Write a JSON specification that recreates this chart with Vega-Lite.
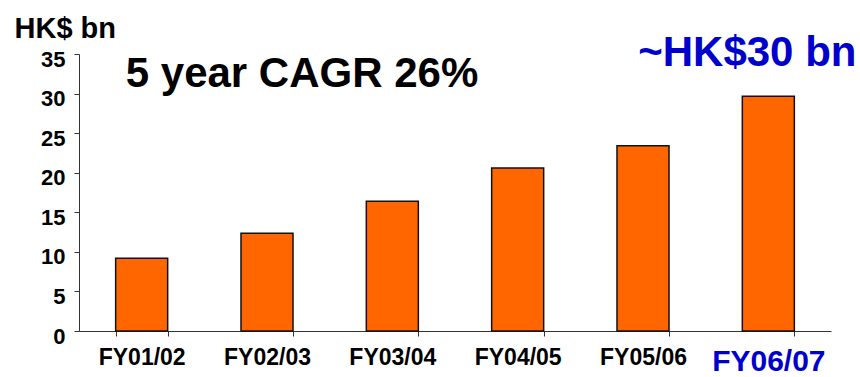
{
  "$schema": "https://vega.github.io/schema/vega-lite/v6.json",
  "width": 752,
  "height": 277,
  "autosize": {"type": "none"},
  "padding": {"left": 79, "top": 54, "right": 29, "bottom": 46},
  "background": "white",
  "config": {
    "view": {"stroke": null},
    "font": "Liberation Sans",
    "axis": {"grid": false, "domainColor": "#333333", "tickColor": "#333333", "labelFont": "Liberation Sans", "labelFontWeight": "bold", "labelColor": "black", "titleFont": "Liberation Sans", "labelOverlap": false}
  },
  "encoding": {
    "x": {
      "field": "year", "type": "nominal", "sort": ["FY01/02", "FY02/03", "FY03/04", "FY04/05", "FY05/06", "FY06/07"],
      "scale": {"paddingInner": 0.585, "paddingOuter": 0.2925},
      "axis": {
        "title": null, "labelAngle": 0, "tickBand": "extent", "tickSize": 5,
        "labelPadding": 10, "labelBaseline": "top", "labelOverlap": false,
        "labelFontSize": {"condition": {"test": "datum.value === 'FY06/07'", "value": 30}, "value": 23},
        "labelColor": {"condition": {"test": "datum.value === 'FY06/07'", "value": "#0000CC"}, "value": "black"}
      }
    },
    "y": {
      "field": "value", "type": "quantitative",
      "scale": {"domain": [0, 35], "nice": false},
      "axis": {
        "values": [0, 5, 10, 15, 20, 25, 30, 35], "tickSize": 5, "labelPadding": 9, "labelFontSize": 22, "labelOverlap": false,
        "labelBaseline": "middle", "labelOffset": 5,
        "title": "HK$ bn", "titleAngle": 0, "titleAlign": "left", "titleBaseline": "alphabetic",
        "titleX": -65, "titleY": -17, "titleFontSize": 29, "titleFontWeight": "bold", "titleColor": "black"
      }
    }
  },
  "layer": [
    {
      "data": {
        "values": [
          {"year": "FY01/02", "value": 9.2},
          {"year": "FY02/03", "value": 12.35},
          {"year": "FY03/04", "value": 16.4},
          {"year": "FY04/05", "value": 20.6},
          {"year": "FY05/06", "value": 23.4},
          {"year": "FY06/07", "value": 29.65}
        ]
      },
      "mark": {"type": "bar", "color": "#FF6600", "stroke": "#111111", "strokeWidth": 1.5}
    },
    {
      "data": {"values": [{"year": "FY02/03", "value": 30.8, "label": "5 year CAGR 26%"}]},
      "mark": {"type": "text", "fontSize": 42, "fontWeight": "bold", "color": "black", "align": "center", "baseline": "alphabetic", "dx": 35},
      "encoding": {"text": {"field": "label"}}
    },
    {
      "data": {"values": [{"year": "FY06/07", "value": 33.5, "label": "~HK$30 bn"}]},
      "mark": {"type": "text", "fontSize": 42, "fontWeight": "bold", "color": "#0000CC", "align": "center", "baseline": "alphabetic", "dx": -21},
      "encoding": {"text": {"field": "label"}}
    }
  ]
}
